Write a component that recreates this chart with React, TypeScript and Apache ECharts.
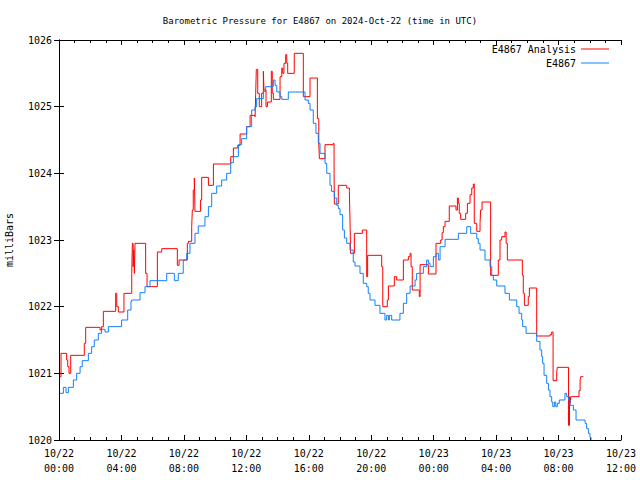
import React, { useEffect, useRef } from "react";
import * as echarts from "echarts";

// hours since 2024-10-22 00:00 UTC
const analysisHours = [
  0.06, 0.13, 0.49, 0.56, 0.64, 0.75, 1.62, 1.71, 2.63, 2.73, 2.84, 3.63, 3.7, 3.8, 4.16, 4.66, 4.7, 4.75,
  4.79, 4.83, 4.87, 5.55, 5.64, 6.3, 6.58, 7.58, 7.69, 8.22, 8.29, 8.5, 8.54, 8.6, 8.67, 8.71, 9.07, 9.14,
  9.57, 9.89, 11.0, 11.17, 11.45, 11.6, 12.02, 12.24, 12.56, 12.6, 12.64, 12.73, 12.83, 12.98, 13.09, 13.13,
  13.26, 13.35, 13.6, 13.66, 13.73, 14.16, 14.27, 14.33, 14.41, 14.52, 14.59, 14.65, 15.07, 15.65, 16.08,
  16.55, 16.64, 16.68, 17.04, 17.57, 17.62, 17.64, 17.89, 18.43, 18.6, 18.64, 18.68, 18.92, 19.43, 19.71,
  19.77, 20.67, 20.74, 21.03, 21.1, 21.48, 21.63, 22.06, 22.38, 22.49, 22.55, 22.63, 23.08, 23.13, 23.66,
  24.15, 24.45, 24.54, 24.62, 24.73, 25.0, 25.43, 25.52, 25.58, 25.64, 25.73, 26.05, 26.16, 26.33, 26.44,
  26.54, 26.6, 26.76, 26.97, 27.01, 27.1, 27.65, 28.14, 28.25, 28.36, 28.57, 28.64, 28.72, 29.68, 29.74,
  29.81, 30.06, 30.13, 30.6, 31.45, 31.56, 31.65, 31.88, 31.92, 32.64, 32.7, 32.74, 32.78, 33.31, 33.38,
  33.42, 33.59,
];
const analysisValues = [
  1020.95, 1021.3, 1021.2, 1021.1, 1021.0, 1021.27, 1021.45, 1021.69, 1021.65, 1021.7, 1021.93, 1022.2,
  1022.0, 1021.92, 1022.2, 1022.5, 1022.95, 1022.6, 1022.85, 1022.5, 1022.95, 1022.5, 1022.3, 1022.82,
  1022.87, 1022.62, 1022.7, 1022.95, 1022.98, 1023.2, 1023.45, 1023.75, 1023.93, 1023.43, 1023.6, 1023.94,
  1023.82, 1024.14, 1024.25, 1024.38, 1024.42, 1024.59, 1024.7, 1024.87, 1024.85, 1025.2, 1025.56, 1025.2,
  1025.0, 1025.2, 1025.53, 1025.25, 1025.0, 1025.07, 1025.53, 1025.2, 1025.11, 1025.45, 1025.58, 1025.5,
  1025.65, 1025.78, 1025.65, 1025.5, 1025.8, 1025.15, 1025.43, 1024.82, 1024.45, 1024.22, 1024.43, 1024.45,
  1024.0, 1023.54, 1023.82, 1023.78, 1023.73, 1023.3, 1022.8, 1023.1, 1023.15, 1022.45, 1022.77, 1022.6,
  1022.0, 1022.1, 1022.31, 1022.45, 1022.4, 1022.7, 1022.75, 1022.8, 1022.6, 1022.25, 1022.15, 1022.63,
  1022.49, 1022.95, 1023.0, 1023.11, 1023.2, 1023.28, 1023.51, 1023.45, 1023.63, 1023.55, 1023.4, 1023.31,
  1023.4, 1023.55, 1023.68, 1023.78, 1023.84, 1023.25, 1023.13, 1023.25, 1023.45, 1023.57, 1022.47, 1022.7,
  1023.0, 1023.05, 1023.12, 1022.95, 1022.7, 1022.47, 1022.2, 1022.02, 1022.15, 1022.28, 1021.56, 1021.58,
  1021.62, 1020.89, 1021.0, 1021.09, 1020.22, 1020.65, 1020.55, 1020.65, 1020.74, 1020.9, 1020.95, 1020.95,
];

const stationHours = [
  0.06, 0.28, 0.45, 0.6, 0.92, 1.13, 1.35, 1.49, 1.88, 2.09, 2.26, 2.52, 2.73, 2.95, 3.16, 4.01, 4.4, 4.61,
  4.66, 5.19, 5.51, 5.83, 6.9, 7.39, 7.64, 7.96, 8.18, 8.39, 8.71, 8.92, 9.35, 9.57, 9.78, 10.1, 10.42,
  10.74, 11.0, 11.17, 11.49, 11.7, 12.02, 12.34, 12.56, 12.66, 13.09, 13.24, 13.73, 13.84, 13.95, 14.16,
  14.27, 14.69, 15.76, 15.97, 16.08, 16.29, 16.46, 16.61, 16.72, 17.04, 17.15, 17.36, 17.46, 17.64, 17.79,
  17.89, 18.0, 18.17, 18.28, 18.43, 18.64, 18.85, 18.96, 19.28, 19.49, 19.71, 19.81, 19.92, 20.24, 20.56,
  20.88, 20.99, 21.1, 21.16, 21.31, 21.84, 22.06, 22.27, 22.49, 22.81, 22.91, 23.34, 23.55, 23.66, 23.77,
  23.98, 24.15, 24.3, 24.41, 24.73, 25.58, 26.12, 26.37, 26.76, 26.86, 26.97, 27.29, 27.61, 27.72, 27.82,
  28.04, 28.57, 28.85, 29.32, 29.47, 29.64, 29.7, 29.92, 30.6, 30.81, 30.92, 30.98, 31.07, 31.24, 31.35,
  31.45, 31.56, 31.63, 31.73, 31.82, 31.92, 32.05, 32.41, 32.52, 32.63, 32.74, 32.95, 33.12, 33.7, 33.8,
  33.91, 34.01, 34.08,
];
const stationValues = [
  1020.7, 1020.79, 1020.71, 1020.79, 1020.9, 1021.0, 1021.1, 1021.19, 1021.3, 1021.4, 1021.5, 1021.6,
  1021.66, 1021.62, 1021.7, 1021.8, 1021.95, 1022.08, 1022.1, 1022.21, 1022.3, 1022.39, 1022.5, 1022.39,
  1022.5, 1022.7, 1022.8, 1022.95, 1023.1, 1023.21, 1023.35, 1023.5, 1023.7, 1023.81, 1023.9, 1024.0,
  1024.16, 1024.25, 1024.43, 1024.52, 1024.7, 1024.95, 1025.0, 1025.12, 1025.23, 1025.3, 1025.4, 1025.32,
  1025.22, 1025.15, 1025.11, 1025.22, 1025.1, 1025.05, 1024.95, 1024.75, 1024.6, 1024.45, 1024.3, 1024.15,
  1024.0, 1023.82, 1023.73, 1023.63, 1023.52, 1023.47, 1023.38, 1023.15, 1023.03, 1022.95, 1022.85,
  1022.67, 1022.61, 1022.5, 1022.35, 1022.3, 1022.2, 1022.1, 1022.02, 1021.9, 1021.8, 1021.87, 1021.8,
  1021.87, 1021.8, 1021.9, 1022.05, 1022.2, 1022.31, 1022.4, 1022.5, 1022.6, 1022.7, 1022.65, 1022.6,
  1022.75, 1022.8, 1022.7, 1022.9, 1023.01, 1023.1, 1023.2, 1023.1, 1023.02, 1022.95, 1022.85, 1022.7,
  1022.6, 1022.47, 1022.4, 1022.31, 1022.2, 1022.1, 1022.0, 1021.9, 1021.8, 1021.7, 1021.6, 1021.48,
  1021.35, 1021.25, 1021.15, 1020.97, 1020.85, 1020.75, 1020.65, 1020.57, 1020.5, 1020.57, 1020.5,
  1020.55, 1020.6, 1020.7, 1020.65, 1020.6, 1020.52, 1020.45, 1020.3, 1020.25, 1020.17, 1020.1, 1020.04,
  1020.0,
];

const seriesNames = ["E4867 Analysis", "E4867"];
const titleText = "Barometric Pressure for E4867 on 2024-Oct-22 (time in UTC)";
const yAxisName = "milliBars";

const FONT = "DejaVu Sans Mono";

function fmtX(v: number): string {
  const day = 22 + Math.floor(v / 24);
  const hh = Math.round(v % 24);
  return `10/${day}\n${String(hh).padStart(2, "0")}:00`;
}

export default function App() {
  const ref = useRef<HTMLDivElement>(null);
  useEffect(() => {
    if (!ref.current) return;
    const chart = echarts.init(ref.current, null, { renderer: "svg" });
    const red = analysisHours.map((h, i) => [h, analysisValues[i]]);
    const blue = stationHours.map((h, i) => [h, stationValues[i]]);
    const axisLine = { show: true, lineStyle: { color: "#000", width: 1 } };
    const legendBase = {
      right: 31,
      align: "right",
      icon: "rect",
      itemWidth: 28,
      itemHeight: 1,
      itemGap: 6,
      padding: 0,
      textStyle: { fontFamily: FONT, fontSize: 10, color: "#000" },
    };
    chart.setOption({
      animation: false,
      backgroundColor: "#fff",
      title: {
        text: titleText,
        left: "center",
        top: 11,
        textStyle: { fontFamily: FONT, fontSize: 9, fontWeight: "normal", color: "#000" },
      },
      legend: [
        { ...legendBase, data: [seriesNames[0]], top: 44 },
        { ...legendBase, data: [seriesNames[1]], top: 58 },
      ],
      grid: { left: 59, right: 19, top: 40, bottom: 40, containLabel: false, outerBoundsMode: "none" },
      xAxis: [
        {
          type: "value",
          min: 0,
          max: 36,
          interval: 4,
          position: "bottom",
          axisLine,
          axisTick: { show: true, inside: true, length: 5, lineStyle: { color: "#000" } },
          minorTick: { show: true, splitNumber: 4, length: 3, lineStyle: { color: "#000" } },
          splitLine: { show: false },
          axisLabel: {
            formatter: fmtX,
            fontFamily: FONT,
            fontSize: 10,
            color: "#000",
            lineHeight: 15,
            margin: 6,
          },
        },
        {
          type: "value",
          min: 0,
          max: 36,
          interval: 4,
          position: "top",
          axisLine,
          axisTick: { show: true, inside: true, length: 5, lineStyle: { color: "#000" } },
          minorTick: { show: true, splitNumber: 4, length: 3, lineStyle: { color: "#000" } },
          splitLine: { show: false },
          axisLabel: { show: false },
        },
      ],
      yAxis: [
        {
          type: "value",
          min: 1020,
          max: 1026,
          interval: 1,
          position: "left",
          name: yAxisName,
          nameLocation: "middle",
          nameGap: 45,
          nameRotate: 90,
          nameTextStyle: { fontFamily: FONT, fontSize: 10, color: "#000" },
          axisLine,
          axisTick: { show: true, inside: true, length: 5, lineStyle: { color: "#000" } },
          splitLine: { show: false },
          axisLabel: {
            fontFamily: FONT,
            fontSize: 10,
            color: "#000",
            margin: 7,
            formatter: (v: number) => String(v),
          },
        },
        {
          type: "value",
          min: 1020,
          max: 1026,
          interval: 1,
          position: "right",
          axisLine,
          axisTick: { show: true, inside: true, length: 5, lineStyle: { color: "#000" } },
          splitLine: { show: false },
          axisLabel: { show: false },
        },
      ],
      series: [
        {
          name: seriesNames[0],
          type: "line",
          step: "end",
          data: red,
          symbol: "none",
          clip: true,
          lineStyle: { color: "#ff0000", width: 1 },
          itemStyle: { color: "#ff0000" },
        },
        {
          name: seriesNames[1],
          type: "line",
          step: "end",
          data: blue,
          symbol: "none",
          clip: true,
          lineStyle: { color: "#1080ff", width: 1 },
          itemStyle: { color: "#1080ff" },
        },
      ],
    });
    return () => chart.dispose();
  }, []);
  return (
    <div
      ref={ref}
      style={{ position: "fixed", left: 0, top: 0, width: 640, height: 480, background: "#fff" }}
    />
  );
}
